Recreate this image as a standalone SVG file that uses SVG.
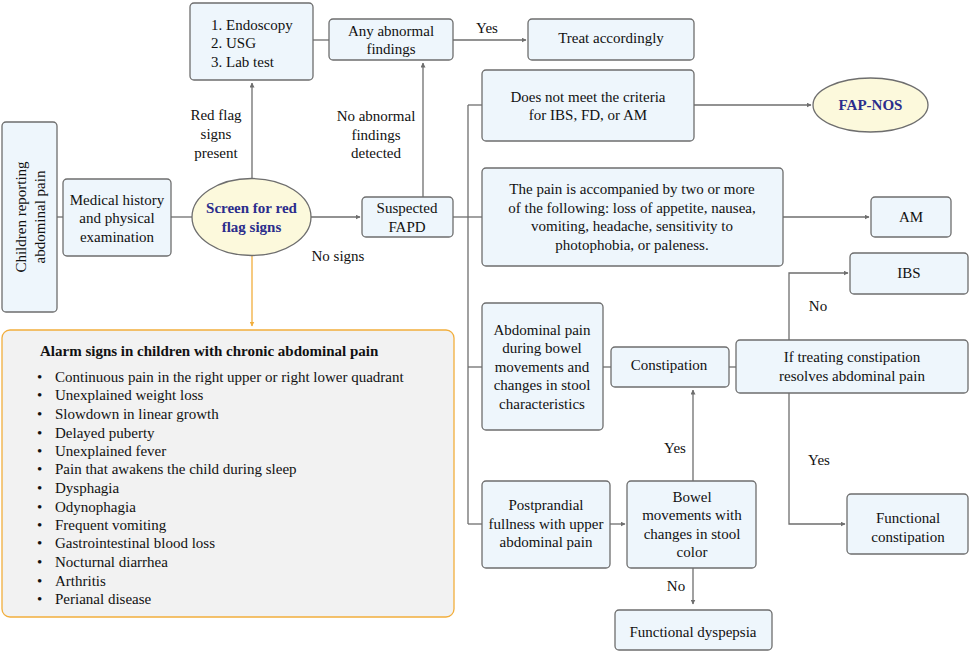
<svg xmlns="http://www.w3.org/2000/svg" width="972" height="654" viewBox="0 0 972 654" font-family="'Liberation Serif', 'DejaVu Serif', serif">
<defs>
<style>
.box{fill:#eef6fc;stroke:#6e6e6e;stroke-width:1.3}
.ell{fill:#fcf9dc;stroke:#6e6e6e;stroke-width:1.3}
.t{font-family:'Liberation Serif','DejaVu Serif',serif;font-size:15px;fill:#111}
.c{text-anchor:middle}
.bt{font-family:'Liberation Serif','DejaVu Serif',serif;font-size:15px;font-weight:bold;fill:#2b2d8c;text-anchor:middle}
.ln{fill:none;stroke:#6e6e6e;stroke-width:1.3}
.or{fill:none;stroke:#f2ae3c;stroke-width:1.3}
</style>
<marker id="ah" viewBox="0 0 10 10" refX="9" refY="5" markerWidth="5" markerHeight="5" markerUnits="userSpaceOnUse" orient="auto"><path d="M0,0 L10,5 L0,10 z" fill="#6e6e6e"/></marker>
<marker id="aho" viewBox="0 0 10 10" refX="9" refY="5" markerWidth="5" markerHeight="5" markerUnits="userSpaceOnUse" orient="auto"><path d="M0,0 L10,5 L0,10 z" fill="#f2ae3c"/></marker>
</defs>
<rect width="972" height="654" fill="#fff"/>
<g id="connectors">
<path class="ln" d="M57,217 H63"/>
<path class="ln" d="M171,217 H192"/>
<path class="ln" d="M311,217 H360" marker-end="url(#ah)"/>
<path class="ln" d="M252,179 V83" marker-end="url(#ah)"/>
<path class="ln" d="M313,40 H329"/>
<path class="ln" d="M453,40 H526" marker-end="url(#ah)"/>
<path class="ln" d="M423,197 V63" marker-end="url(#ah)"/>
<path class="ln" d="M453,217 H482"/>
<path class="ln" d="M468,105 V524"/>
<path class="ln" d="M468,105 H482"/>
<path class="ln" d="M468,367 H482"/>
<path class="ln" d="M468,524 H482"/>
<path class="ln" d="M694,105 H811" marker-end="url(#ah)"/>
<path class="ln" d="M783,217 H869" marker-end="url(#ah)"/>
<path class="ln" d="M603,367 H611"/>
<path class="ln" d="M729,367 H736"/>
<path class="ln" d="M789,340 V273 H848" marker-end="url(#ah)"/>
<path class="ln" d="M789,393 V524 H845" marker-end="url(#ah)"/>
<path class="ln" d="M610,524 H625" marker-end="url(#ah)"/>
<path class="ln" d="M693,481 V390" marker-end="url(#ah)"/>
<path class="ln" d="M693,568 V604" marker-end="url(#ah)"/>
<path class="or" d="M252,256 V326" marker-end="url(#aho)"/>
</g>
<g id="edge-labels">
<text class="t c" x="216" y="120">Red flag</text>
<text class="t c" x="216" y="139">signs</text>
<text class="t c" x="216" y="158">present</text>
<text class="t c" x="376" y="121">No abnormal</text>
<text class="t c" x="376" y="140">findings</text>
<text class="t c" x="376" y="158">detected</text>
<text class="t c" x="338" y="261">No signs</text>
<text class="t c" x="487" y="33">Yes</text>
<text class="t c" x="818" y="311">No</text>
<text class="t c" x="819" y="465">Yes</text>
<text class="t c" x="675" y="453">Yes</text>
<text class="t c" x="676" y="591">No</text>
</g>
<g id="children">
<rect class="box" x="2" y="122" width="55" height="190" rx="4"/>
<text class="t c" transform="translate(29,217) rotate(-90)"><tspan x="0" y="-3">Children reporting</tspan><tspan x="0" y="16">abdominal pain</tspan></text>
</g>
<g id="medical">
<rect class="box" x="63" y="179" width="108" height="77" rx="4"/>
<text class="t c" x="117" y="205">Medical history</text>
<text class="t c" x="117" y="223">and physical</text>
<text class="t c" x="117" y="242">examination</text>
</g>
<g id="screen">
<ellipse class="ell" cx="251.5" cy="217" rx="59.5" ry="38.5"/>
<text class="bt" x="251.5" y="213">Screen for red</text>
<text class="bt" x="251.5" y="232">flag signs</text>
</g>
<g id="tests">
<rect class="box" x="190" y="3" width="123" height="77" rx="4"/>
<text class="t" x="211" y="30">1. Endoscopy</text>
<text class="t" x="211" y="48">2. USG</text>
<text class="t" x="211" y="67">3. Lab test</text>
</g>
<g id="abnormal">
<rect class="box" x="329" y="19" width="124" height="41" rx="4"/>
<text class="t c" x="391" y="36">Any abnormal</text>
<text class="t c" x="391" y="54">findings</text>
</g>
<g id="treat">
<rect class="box" x="528" y="19" width="166" height="41" rx="4"/>
<text class="t c" x="611" y="43">Treat accordingly</text>
</g>
<g id="fapd">
<rect class="box" x="362" y="197" width="91" height="40" rx="4"/>
<text class="t c" x="407" y="213">Suspected</text>
<text class="t c" x="407" y="232">FAPD</text>
</g>
<g id="notmeet">
<rect class="box" x="482" y="70" width="212" height="71" rx="4"/>
<text class="t c" x="588" y="102">Does not meet the criteria</text>
<text class="t c" x="588" y="120">for IBS, FD, or AM</text>
</g>
<g id="fapnos">
<ellipse class="ell" cx="870.5" cy="105" rx="57.5" ry="27"/>
<text class="bt" x="870.5" y="110">FAP-NOS</text>
</g>
<g id="painbox">
<rect class="box" x="482" y="168" width="301" height="98" rx="4"/>
<text class="t c" x="632" y="194">The pain is accompanied by two or more</text>
<text class="t c" x="632" y="213">of the following: loss of appetite, nausea,</text>
<text class="t c" x="632" y="231">vomiting, headache, sensitivity to</text>
<text class="t c" x="632" y="250">photophobia, or paleness.</text>
</g>
<g id="am">
<rect class="box" x="871" y="197" width="80" height="40" rx="4"/>
<text class="t c" x="911" y="222">AM</text>
</g>
<g id="ibs">
<rect class="box" x="850" y="253" width="118" height="41" rx="4"/>
<text class="t c" x="909" y="278">IBS</text>
</g>
<g id="abdpain">
<rect class="box" x="482" y="303" width="121" height="127" rx="4"/>
<text class="t c" x="542" y="335">Abdominal pain</text>
<text class="t c" x="542" y="353">during bowel</text>
<text class="t c" x="542" y="372">movements and</text>
<text class="t c" x="542" y="390">changes in stool</text>
<text class="t c" x="542" y="409">characteristics</text>
</g>
<g id="constipation">
<rect class="box" x="611" y="347" width="118" height="40" rx="4"/>
<text class="t c" x="669" y="370">Constipation</text>
</g>
<g id="iftreating">
<rect class="box" x="736" y="340" width="232" height="53" rx="4"/>
<text class="t c" x="852" y="362">If treating constipation</text>
<text class="t c" x="852" y="381">resolves abdominal pain</text>
</g>
<g id="funcconst">
<rect class="box" x="847" y="494" width="121" height="60" rx="4"/>
<text class="t c" x="908" y="523">Functional</text>
<text class="t c" x="908" y="542">constipation</text>
</g>
<g id="postprandial">
<rect class="box" x="482" y="481" width="128" height="87" rx="4"/>
<text class="t c" x="546" y="510">Postprandial</text>
<text class="t c" x="546" y="529">fullness with upper</text>
<text class="t c" x="546" y="547">abdominal pain</text>
</g>
<g id="bowel">
<rect class="box" x="627" y="481" width="129" height="87" rx="4"/>
<text class="t c" x="692" y="502">Bowel</text>
<text class="t c" x="692" y="520">movements with</text>
<text class="t c" x="692" y="539">changes in stool</text>
<text class="t c" x="692" y="557">color</text>
</g>
<g id="dyspepsia">
<rect class="box" x="615" y="610" width="157" height="40" rx="4"/>
<text class="t c" x="693" y="637">Functional dyspepsia</text>
</g>
<g id="alarm">
<rect x="2" y="330" width="452" height="287" rx="8" fill="#f2f2f2" stroke="#f2ae3c" stroke-width="1.3"/>
<text class="t" x="40" y="356" font-weight="bold">Alarm signs in children with chronic abdominal pain</text>
<g class="t">
<text x="37" y="382">•</text><text x="55" y="382">Continuous pain in the right upper or right lower quadrant</text>
<text x="37" y="400">•</text><text x="55" y="400">Unexplained weight loss</text>
<text x="37" y="419">•</text><text x="55" y="419">Slowdown in linear growth</text>
<text x="37" y="438">•</text><text x="55" y="438">Delayed puberty</text>
<text x="37" y="456">•</text><text x="55" y="456">Unexplained fever</text>
<text x="37" y="474">•</text><text x="55" y="474">Pain that awakens the child during sleep</text>
<text x="37" y="493">•</text><text x="55" y="493">Dysphagia</text>
<text x="37" y="512">•</text><text x="55" y="512">Odynophagia</text>
<text x="37" y="530">•</text><text x="55" y="530">Frequent vomiting</text>
<text x="37" y="548">•</text><text x="55" y="548">Gastrointestinal blood loss</text>
<text x="37" y="567">•</text><text x="55" y="567">Nocturnal diarrhea</text>
<text x="37" y="586">•</text><text x="55" y="586">Arthritis</text>
<text x="37" y="604">•</text><text x="55" y="604">Perianal disease</text>
</g>
</g>
</svg>
